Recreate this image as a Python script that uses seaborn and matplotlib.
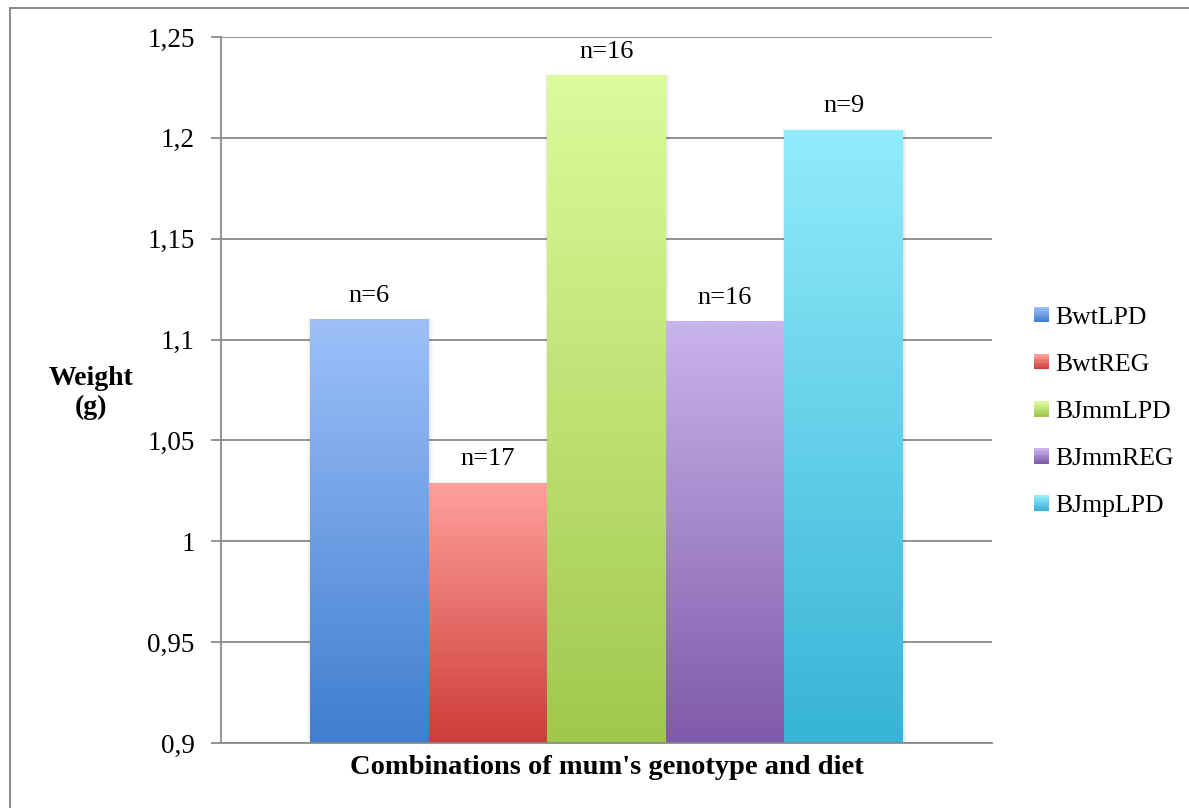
import numpy as np
import pandas as pd
import matplotlib
matplotlib.use("Agg")
import matplotlib.pyplot as plt
from matplotlib.colors import LinearSegmentedColormap
from matplotlib.patches import Rectangle
from matplotlib.legend_handler import HandlerBase
import seaborn as sns

# Mean pup weight per combination of mum's genotype and diet
groups = ["BwtLPD", "BwtREG", "BJmmLPD", "BJmmREG", "BJmpLPD"]
weights = [1.110, 1.029, 1.231, 1.109, 1.204]
counts = ["n=6", "n=17", "n=16", "n=16", "n=9"]
y_ticks = [0.9, 0.95, 1.0, 1.05, 1.1, 1.15, 1.2, 1.25]
y_tick_labels = ["0,9", "0,95", "1", "1,05", "1,1", "1,15", "1,2", "1,25"]

# Gradient colours for each bar: (top, bottom)
top_colors = ["#9ec0fa", "#ffa19c", "#dcfb9c", "#cab4ec", "#92ecfb"]
bottom_colors = ["#3f7ecf", "#ce3c3a", "#a0c84c", "#7f5aa9", "#37b4d6"]

sns.set_theme(style="white")
plt.rcParams["font.family"] = ["Liberation Serif", "DejaVu Serif"]
plt.rcParams["text.color"] = "black"
plt.rcParams["axes.labelcolor"] = "black"

df = pd.DataFrame({"group": groups, "weight": weights})

W, H = 1189, 808
fig = plt.figure(figsize=(W / 100, H / 100), dpi=100)
ax = fig.add_axes([221 / W, 1 - 743 / H, (992 - 221) / W, (743 - 37) / H])

sns.barplot(data=df, x="group", y="weight", hue="group", order=groups,
            hue_order=groups, palette=bottom_colors, width=1.0,
            dodge=False, legend=False, ax=ax, linewidth=0, saturation=1)

ylo, yhi = 0.9, 1.25
xlo, xhi = -1.25, 5.25
px_x = (xhi - xlo) / (992 - 221)
px_y = (yhi - ylo) / (743 - 37)

# Replace flat fills with vertical gradients clipped to each bar
for patch, group in zip(ax.patches[:len(groups)], groups):
    i = groups.index(group)
    x0 = patch.get_x()
    w = patch.get_width()
    h = patch.get_height()
    cmap = LinearSegmentedColormap.from_list(group, [bottom_colors[i], top_colors[i]])
    grad = np.linspace(0, 1, 256).reshape(-1, 1)
    patch.set_facecolor("none")
    # soft drop shadow around the bar
    for k in range(1, 6):
        ax.add_patch(Rectangle((x0 - k * 0.4 * px_x, ylo),
                               w + k * 1.2 * px_x, h - ylo + (k * 0.6 - 2) * px_y,
                               facecolor="#000000", alpha=0.018, linewidth=0,
                               zorder=1.5, clip_on=True))
    im = ax.imshow(grad, extent=(x0, x0 + w, ylo, h), origin="lower",
                   aspect="auto", cmap=cmap, zorder=2, interpolation="bilinear")
    im.set_clip_path(patch)
    patch.set_zorder(2)

# n labels above bars
for i, (val, txt) in enumerate(zip(weights, counts)):
    ax.annotate(txt, xy=(i, val), xytext=(0, 9), textcoords="offset points",
                ha="center", va="bottom", fontsize=19, color="black")

ax.set_xlim(xlo, xhi)
ax.set_ylim(ylo, yhi)
ax.set_yticks(y_ticks)
ax.set_yticklabels(y_tick_labels, fontsize=19.5)
ax.set_xticks([])
ax.set_xlabel("Combinations of mum's genotype and diet", fontsize=20.5,
              fontweight="bold", labelpad=9)
ax.set_ylabel("")

grid_color = "#8a8a8a"
ax.yaxis.grid(True, color=grid_color, linewidth=1.3, zorder=0)
ax.set_axisbelow(True)
for side in ["top", "right"]:
    ax.spines[side].set_visible(False)
for side in ["left", "bottom"]:
    ax.spines[side].set_color(grid_color)
    ax.spines[side].set_linewidth(1.3)
ax.tick_params(axis="y", which="both", left=True, length=7, width=1.3,
               color=grid_color, pad=12, labelcolor="black")

# y-axis title, horizontal at left
fig.text(91 / W, 1 - 393 / H, "Weight\n(g)", ha="center", va="center",
         fontsize=20, fontweight="bold", linespacing=1.25)


# Legend with gradient swatches
class GradientHandler(HandlerBase):
    def __init__(self, top, bottom):
        super().__init__()
        self.top = top
        self.bottom = bottom

    def create_artists(self, legend, orig_handle, xdescent, ydescent,
                       width, height, fontsize, trans):
        arts = []
        n = 12
        size = height
        x0 = -xdescent + (width - size)
        cmap = LinearSegmentedColormap.from_list("g", [self.bottom, self.top])
        for k in range(n):
            r = Rectangle((x0, -ydescent + k * size / n), size, size / n + 0.05,
                          facecolor=cmap(k / (n - 1)), edgecolor="none",
                          transform=trans)
            arts.append(r)
        return arts


handles = [Rectangle((0, 0), 1, 1) for _ in groups]
handler_map = {h: GradientHandler(t, b) for h, t, b in zip(handles, top_colors, bottom_colors)}
leg = fig.legend(handles, groups, handler_map=handler_map,
                 loc="center left", bbox_to_anchor=(1035 / W, 1 - 412 / H),
                 frameon=False, fontsize=18.5, handlelength=0.55, handleheight=0.55,
                 handletextpad=0.25, labelspacing=0.98, borderpad=0, borderaxespad=0)

# Outer chart border
fig.patches.append(Rectangle((10 / W, -0.1), 1.2, 1.1 - 8 / H,
                             transform=fig.transFigure, fill=False,
                             edgecolor="#8a8a8a", linewidth=1.4))

fig.savefig("out.png", dpi=100)
